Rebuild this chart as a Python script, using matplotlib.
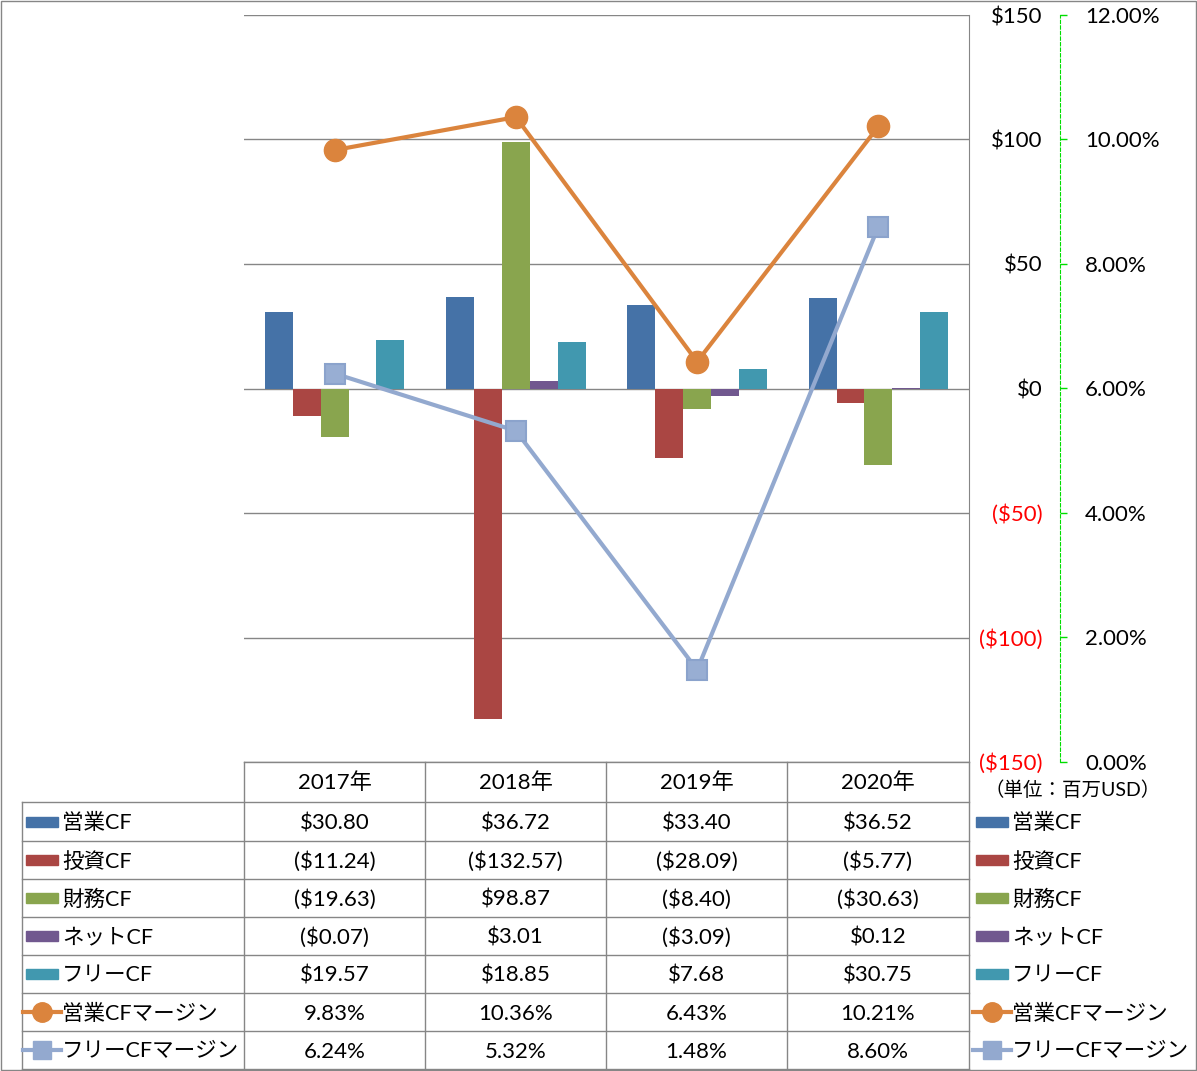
import matplotlib.pyplot as plt
from matplotlib.lines import Line2D
from matplotlib.patches import Rectangle

plt.rcParams["font.family"] = ["Lato", "Noto Sans CJK JP", "DejaVu Sans"]

years = ["2017年", "2018年", "2019年", "2020年"]
bar_names = ["営業CF", "投資CF", "財務CF", "ネットCF", "フリーCF"]
op_cf = [30.80, 36.72, 33.40, 36.52]
inv_cf = [-11.24, -132.57, -28.09, -5.77]
fin_cf = [-19.63, 98.87, -8.40, -30.63]
net_cf = [-0.07, 3.01, -3.09, 0.12]
free_cf = [19.57, 18.85, 7.68, 30.75]
line_names = ["営業CFマージン", "フリーCFマージン"]
op_margin = [9.83, 10.36, 6.43, 10.21]
free_margin = [6.24, 5.32, 1.48, 8.60]
left_ticks = [-150, -100, -50, 0, 50, 100, 150]
right_ticks = [0, 2, 4, 6, 8, 10, 12]

bar_colors = ["#4572A7", "#AA4643", "#89A54E", "#71588F", "#4198AF"]
line_colors = ["#DB843D", "#93A9CF"]
GRID = "#868686"
W, H = 1197, 1071


def money(v):
    return f"(${-v:.2f})" if v < 0 else f"${v:.2f}"


def money_tick(v):
    return f"(${-v:.0f})" if v < 0 else f"${v:.0f}"


fig = plt.figure(figsize=(W / 100, H / 100), dpi=100)
fig.patch.set_facecolor("white")

# plot area in pixel coords: x 244..969, y 15..762
px0, px1, py0, py1 = 244, 969, 15, 762
ax = fig.add_axes([px0 / W, 1 - py1 / H, (px1 - px0) / W, (py1 - py0) / H])
ax2 = ax.twinx()

ax.set_xlim(-0.5, 3.5)
ax.set_ylim(-150, 150)
ax.set_xticks([])
for side in ("top", "left", "bottom"):
    ax.spines[side].set_visible(False)
ax.spines["right"].set_color(GRID)
ax.yaxis.tick_right()
ax.set_yticks(left_ticks)
ax.set_yticklabels([money_tick(v) for v in left_ticks])
ax.tick_params(axis="y", length=0, pad=53, labelsize=16, labelleft=False, labelright=True)
for tick, v in zip(ax.yaxis.get_major_ticks(), left_ticks):
    tick.label2.set_horizontalalignment("right")
    tick.label2.set_color("#FF0000" if v < 0 else "black")
ax.grid(axis="y", color=GRID, linewidth=1)
ax.set_axisbelow(True)

series = [op_cf, inv_cf, fin_cf, net_cf, free_cf]
bw = 1 / 6.5
for i, (vals, color) in enumerate(zip(series, bar_colors)):
    xs = [k + (i - 2) * bw for k in range(len(years))]
    ax.bar(xs, vals, width=bw, color=color, zorder=2)

ax2.set_ylim(0, 12)
ax2.set_yticks(right_ticks)
ax2.set_yticklabels([f"{v:.2f}%" for v in right_ticks])
for side in ("top", "left", "bottom"):
    ax2.spines[side].set_visible(False)
ax2.spines["right"].set_position(("axes", (1060 - px0) / (px1 - px0)))
ax2.spines["right"].set_color("#00DD00")
ax2.spines["right"].set_linestyle((0, (3, 2)))
ax2.tick_params(axis="y", length=5, width=1, color="#00DD00", pad=13, labelsize=16)

xs = range(len(years))
ax2.plot(xs, op_margin, color=line_colors[0], linewidth=3, marker="o",
         markersize=16, markerfacecolor=line_colors[0], markeredgecolor=line_colors[0], zorder=3)
ax2.plot(xs, free_margin, color=line_colors[1], linewidth=3, marker="s",
         markersize=15, markerfacecolor="#98AED3", markeredgecolor="#8BA3CC",
         markeredgewidth=1.5, zorder=3)

# overlay for the data table and legend keys, pixel coords
ov = fig.add_axes([0, 0, 1, 1])
ov.set_xlim(0, W)
ov.set_ylim(H, 0)
ov.axis("off")
ov.patch.set_visible(False)

ov.add_patch(Rectangle((0.5, 0.5), W - 1.5, H - 1.5, fill=False, edgecolor=GRID, linewidth=1))

col_x = [244, 425, 606, 787, 969]
row_y = [762, 802, 841, 879, 917, 955, 993, 1031, 1069]
for x in col_x:
    ov.add_line(Line2D([x, x], [762, 1069], color=GRID, linewidth=1))
ov.add_line(Line2D([22, 22], [802, 1069], color=GRID, linewidth=1))
ov.add_line(Line2D([244, 969], [762, 762], color=GRID, linewidth=1))
for y in row_y[1:]:
    ov.add_line(Line2D([22, 969], [y, y], color=GRID, linewidth=1))

for j, yr in enumerate(years):
    cx = (col_x[j] + col_x[j + 1]) / 2
    ov.text(cx, (row_y[0] + row_y[1]) / 2 + 1, yr, ha="center", va="center", fontsize=16)

rows = [[money(v) for v in s] for s in series]
rows += [[f"{v:.2f}%" for v in op_margin], [f"{v:.2f}%" for v in free_margin]]
names = bar_names + line_names
for r, (name, vals) in enumerate(zip(names, rows)):
    cy = (row_y[r + 1] + row_y[r + 2]) / 2
    for j, txt in enumerate(vals):
        cx = (col_x[j] + col_x[j + 1]) / 2
        ov.text(cx, cy + 1.5, txt, ha="center", va="center", fontsize=16)
    for key_x, text_x in ((26, 62), (976, 1012)):
        if r < len(bar_names):
            ov.add_patch(Rectangle((key_x, cy - 5), 32, 10, color=bar_colors[r]))
        else:
            lc = line_colors[r - len(bar_names)]
            mk = "o" if r == len(bar_names) else "s"
            ov.plot([key_x - 3, key_x + 35], [cy, cy], color=lc, linewidth=3)
            ov.plot([key_x + 16], [cy], marker=mk, markersize=14 if mk == "o" else 13,
                    color=lc, markeredgecolor=lc)
        ov.text(text_x, cy + 1.5, name, ha="left", va="center", fontsize=15.5)

ov.text(984, 790, "（単位：百万USD）", ha="left", va="center", fontsize=14)

fig.savefig("out.png", dpi=100, facecolor="white")
